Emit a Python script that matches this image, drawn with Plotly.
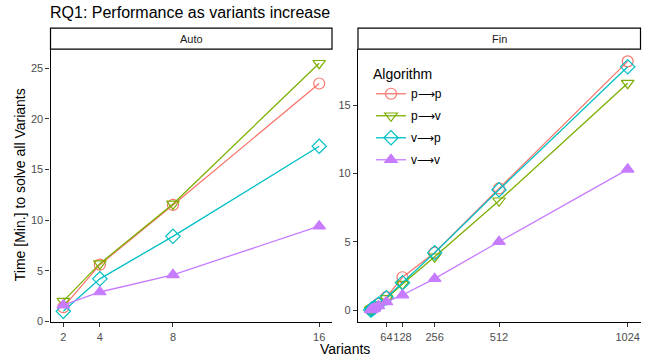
import plotly.graph_objects as go

algorithms = ["p⟶p", "p⟶v", "v⟶p", "v⟶v"]
colors = ["#F8766D", "#7CAE00", "#00BFC4", "#C77CFF"]
symbols = ["circle-open", "triangle-down-open", "diamond-open", "triangle-up"]

auto_x = [2, 4, 8, 16]
auto_pp = [1.4, 5.6, 11.5, 23.5]
auto_pv = [2.0, 5.7, 11.6, 25.5]
auto_vp = [1.0, 4.2, 8.4, 17.3]
auto_vv = [1.6, 2.9, 4.6, 9.4]

fin_x = [2, 4, 8, 16, 32, 64, 128, 256, 512, 1024]
fin_pp = [0.02, 0.05, 0.1, 0.2, 0.45, 0.95, 2.4, 4.2, 8.9, 18.2]
fin_pv = [0.02, 0.04, 0.1, 0.2, 0.4, 0.85, 1.9, 3.9, 8.0, 16.6]
fin_vp = [0.01, 0.04, 0.09, 0.18, 0.42, 0.9, 2.0, 4.2, 8.8, 17.8]
fin_vv = [0.01, 0.03, 0.06, 0.12, 0.3, 0.6, 1.1, 2.3, 5.0, 10.3]

auto_series = [auto_pp, auto_pv, auto_vp, auto_vv]
fin_series = [fin_pp, fin_pv, fin_vp, fin_vv]

fig = go.Figure()
for i, name in enumerate(algorithms):
    fig.add_trace(go.Scatter(
        x=auto_x, y=auto_series[i], mode="lines+markers", name=name,
        line=dict(color=colors[i], width=1.3),
        marker=dict(symbol=symbols[i], size=11, color=colors[i], line=dict(width=1.2, color=colors[i])),
        xaxis="x", yaxis="y", showlegend=False, legendgroup=name))
for i, name in enumerate(algorithms):
    fig.add_trace(go.Scatter(
        x=fin_x, y=fin_series[i], mode="lines+markers", name=name,
        line=dict(color=colors[i], width=1.3),
        marker=dict(symbol=symbols[i], size=11, color=colors[i], line=dict(width=1.2, color=colors[i])),
        xaxis="x2", yaxis="y2", showlegend=True, legendgroup=name))

W, H = 650, 360
KY = 0.985  # observed vertical compression of the photographed page
def px(x): return x / W
def py(y): return 1 - (y / KY) / H

axis_common = dict(showgrid=False, zeroline=False, showline=True, linecolor="black", linewidth=1.2,
                   ticks="outside", ticklen=4, tickcolor="#333333", tickangle=0,
                   tickfont=dict(family="Liberation Sans, Arial", size=11, color="#4D4D4D"))

fig.update_layout(
    width=W, height=H, margin=dict(l=0, r=0, t=0, b=0),
    plot_bgcolor="white", paper_bgcolor="white",
    font=dict(family="Liberation Sans, Arial"),
    xaxis=dict(domain=[px(50.5), px(332)], range=[1.3, 16.7], tickvals=[2, 4, 8, 16], anchor="y", **axis_common),
    yaxis=dict(domain=[py(322), py(49)], range=[-0.1, 26.9], tickvals=[0, 5, 10, 15, 20, 25], anchor="x", **axis_common),
    xaxis2=dict(domain=[px(358), px(640.5)], range=[-49, 1075], tickvals=[64, 128, 256, 512, 1024], anchor="y2", **axis_common),
    yaxis2=dict(domain=[py(322), py(49)], range=[-0.9, 19.1], tickvals=[0, 5, 10, 15], anchor="x2", **axis_common),
    legend=dict(x=px(371), y=py(61), xanchor="left", yanchor="top", bgcolor="rgba(0,0,0,0)",
                title=dict(text="Algorithm", font=dict(size=14, color="black")),
                font=dict(size=12, color="black"), tracegroupgap=3),
    showlegend=True,
)

for (x0, x1, label) in [(50.5, 332, "Auto"), (358, 640.5, "Fin")]:
    fig.add_shape(type="rect", xref="paper", yref="paper", x0=px(x0), x1=px(x1), y0=py(49), y1=py(28),
                  line=dict(color="black", width=1.2), fillcolor="white")
    fig.add_annotation(xref="paper", yref="paper", x=px((x0 + x1) / 2), y=py(38.5), text=label, showarrow=False,
                       font=dict(size=11, color="#1A1A1A"), xanchor="center", yanchor="middle")

fig.add_annotation(xref="paper", yref="paper", x=px(48), y=py(12), text="RQ1: Performance as variants increase",
                   showarrow=False, xanchor="left", yanchor="middle", font=dict(size=16, color="black"))
fig.add_annotation(xref="paper", yref="paper", x=px(345), y=py(349), text="Variants",
                   showarrow=False, xanchor="center", yanchor="middle", font=dict(size=14, color="black"))
fig.add_annotation(xref="paper", yref="paper", x=px(20), y=py(185), text="Time [Min.] to solve all Variants",
                   showarrow=False, textangle=-90, xanchor="center", yanchor="middle", font=dict(size=14, color="black"))

fig.write_html("out.html", config={"displayModeBar": False},
               post_script="document.body.style.margin='0';")
